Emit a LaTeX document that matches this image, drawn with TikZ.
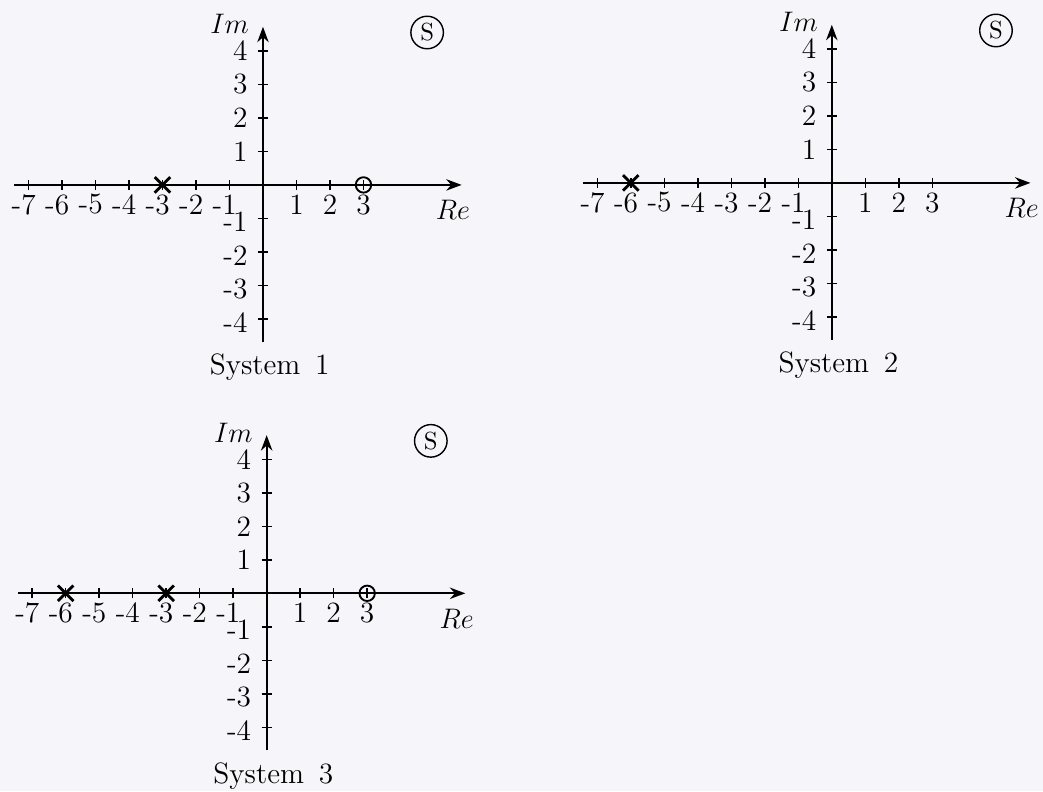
\documentclass[tikz,border=0pt]{standalone}
\usetikzlibrary{arrows.meta,shapes.misc}
\definecolor{paper}{RGB}{246,246,250}
\begin{document}
\begin{tikzpicture}[x=0.5cm,y=0.5cm,every node/.style={font=\fontsize{12.5}{15}\selectfont},
  axis/.style={line width=0.9pt,-{Stealth[length=2.3mm,width=1.7mm]}},
  ticmark/.style={semithick},
  ticlabel/.style={inner sep=1pt},
  pole/.style={cross out,draw,very thick,minimum size=1.9mm,inner sep=0pt},
  zero/.style={circle,draw,thick,minimum size=2.3mm,inner sep=0pt}]
\useasboundingbox[fill=paper] (0,0) rectangle (31.134,-23.612);
% three s-planes: axes, ticks and labels
\foreach \n/\ox/\oy in {1/7.85/-5.52,2/24.83/-5.46,3/7.96/-17.71} {
  \begin{scope}[shift={(\ox,\oy)}]
    \coordinate (xa\n) at (-7.42,0);
    \coordinate (xb\n) at (5.93,0);
    \coordinate (ya\n) at (0,-4.69);
    \coordinate (yb\n) at (0,4.72);
    \draw[axis] (xa\n) -- (xb\n);
    \draw[axis] (ya\n) -- (yb\n);
    \foreach \a in {1,...,7} {
      \draw[ticmark] (-\a,-0.15) -- (-\a,0.15);
      \node (xn\n k\a) [ticlabel,anchor=north] at (-\a,-0.2) {\llap{-}\a};
    }
    \foreach \a in {1,2,3} {
      \draw[ticmark] (\a,-0.15) -- (\a,0.15);
      \node (xp\n k\a) [ticlabel,anchor=north] at (\a,-0.2) {\a};
    }
    \foreach \a in {1,...,4} {
      \draw[ticmark] (-0.15,\a) -- (0.15,\a);
      \draw[ticmark] (-0.15,-\a) -- (0.15,-\a);
      \node (yp\n k\a) [ticlabel,anchor=east] at (-0.38,\a) {\a};
      \node (yn\n k\a) [ticlabel,anchor=east] at (-0.38,-\a-0.1) {-\a};
    }
    \node (im\n) [anchor=east] at (-0.17,4.8) {$Im$};
    \node (re\n) at (5.67,-0.75) {$Re$};
    \node (s\n) [circle,draw,semithick,inner sep=1.5pt,font=\fontsize{10.5}{12}\selectfont] at (4.9,4.55) {S};
    \node (sys\n) at (0.2,-5.45) {System\hspace{0.5em}\n};
  \end{scope}
}
% poles and zeros
\node (p1) [pole] at (7.85-3,-5.52) {};
\node (z1) [zero] at (7.85+3,-5.52) {};
\node (p2) [pole] at (24.83-6,-5.46) {};
\node (p3a) [pole] at (7.96-6,-17.71) {};
\node (p3b) [pole] at (7.96-3,-17.71) {};
\node (z3) [zero] at (7.96+3,-17.71) {};
\end{tikzpicture}
\end{document}
